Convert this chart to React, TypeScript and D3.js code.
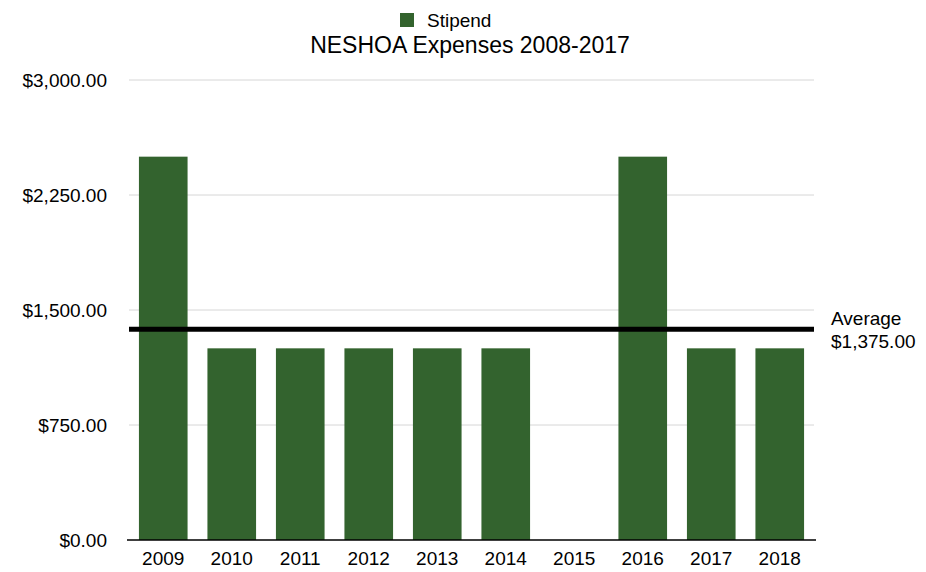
import React, { useRef, useEffect } from "react";
import * as d3 from "d3";

const years = ["2009", "2010", "2011", "2012", "2013", "2014", "2015", "2016", "2017", "2018"];
const stipend = [2500, 1250, 1250, 1250, 1250, 1250, 0, 2500, 1250, 1250];
const yTicks = [0, 750, 1500, 2250, 3000];
const average = 1375;

const width = 926;
const height = 572;
const margin = { top: 80, right: 112, bottom: 32, left: 129 };
const font = "'Liberation Sans', Arial, Helvetica, sans-serif";
const green = "#33632e";

const App = () => {
  const svgRef = useRef(null);

  useEffect(() => {
    const chartWidth = width - margin.left - margin.right;
    const chartHeight = height - margin.top - margin.bottom;

    const svg = d3.select(svgRef.current);
    svg.selectAll("*").remove();

    const xScale = d3.scaleBand().domain(years).range([0, chartWidth]).paddingInner(0.29).paddingOuter(0.145);
    const yScale = d3.scaleLinear().domain([0, 3000]).range([chartHeight, 0]);

    const chart = svg.append("g").attr("transform", `translate(${margin.left}, ${margin.top})`);

    // grid
    chart
      .selectAll("line.grid")
      .data(yTicks.filter((t) => t > 0))
      .enter()
      .append("line")
      .attr("x1", 0)
      .attr("x2", chartWidth)
      .attr("y1", (d) => yScale(d))
      .attr("y2", (d) => yScale(d))
      .attr("stroke", "#d6d6d6")
      .attr("stroke-width", 1);

    // y labels
    chart
      .selectAll("text.ytick")
      .data(yTicks)
      .enter()
      .append("text")
      .attr("x", -22)
      .attr("y", (d) => yScale(d))
      .attr("dy", "0.35em")
      .attr("text-anchor", "end")
      .attr("font-family", font)
      .attr("font-size", 19)
      .attr("fill", "#000")
      .text((d) => "$" + d3.format(",.2f")(d));

    // bars
    chart
      .selectAll("rect")
      .data(stipend)
      .enter()
      .append("rect")
      .attr("x", (d, i) => xScale(years[i]))
      .attr("y", (d) => yScale(d))
      .attr("width", xScale.bandwidth())
      .attr("height", (d) => chartHeight - yScale(d))
      .attr("fill", green);

    // baseline
    chart
      .append("line")
      .attr("x1", -2)
      .attr("x2", chartWidth + 2)
      .attr("y1", chartHeight)
      .attr("y2", chartHeight)
      .attr("stroke", "#000")
      .attr("stroke-width", 1.5);

    // x labels
    chart
      .selectAll("text.xtick")
      .data(years)
      .enter()
      .append("text")
      .attr("x", (d) => xScale(d) + xScale.bandwidth() / 2)
      .attr("y", chartHeight + 25)
      .attr("text-anchor", "middle")
      .attr("font-family", font)
      .attr("font-size", 19)
      .attr("fill", "#000")
      .text((d) => d);

    // average line
    chart
      .append("line")
      .attr("x1", 0)
      .attr("x2", chartWidth)
      .attr("y1", yScale(average))
      .attr("y2", yScale(average))
      .attr("stroke", "#000")
      .attr("stroke-width", 5);

    const avgText = chart
      .append("text")
      .attr("font-family", font)
      .attr("font-size", 19)
      .attr("fill", "#000");
    avgText.append("tspan").attr("x", chartWidth + 17).attr("y", yScale(average) - 4).text("Average");
    avgText
      .append("tspan")
      .attr("x", chartWidth + 17)
      .attr("y", yScale(average) + 19)
      .text("$" + d3.format(",.2f")(average));

    // title
    svg
      .append("text")
      .attr("x", 470)
      .attr("y", 53)
      .attr("text-anchor", "middle")
      .attr("font-family", font)
      .attr("font-size", 23)
      .attr("fill", "#000")
      .text("NESHOA Expenses 2008-2017");

    // legend
    svg.append("rect").attr("x", 400).attr("y", 13).attr("width", 14).attr("height", 14).attr("fill", green);
    svg
      .append("text")
      .attr("x", 427)
      .attr("y", 27)
      .attr("font-family", font)
      .attr("font-size", 19)
      .attr("fill", "#000")
      .text("Stipend");
  }, []);

  return (
    <svg
      ref={svgRef}
      width={width}
      height={height}
      style={{ position: "absolute", left: 0, top: 0, background: "#fff" }}
    ></svg>
  );
};

export default App;
